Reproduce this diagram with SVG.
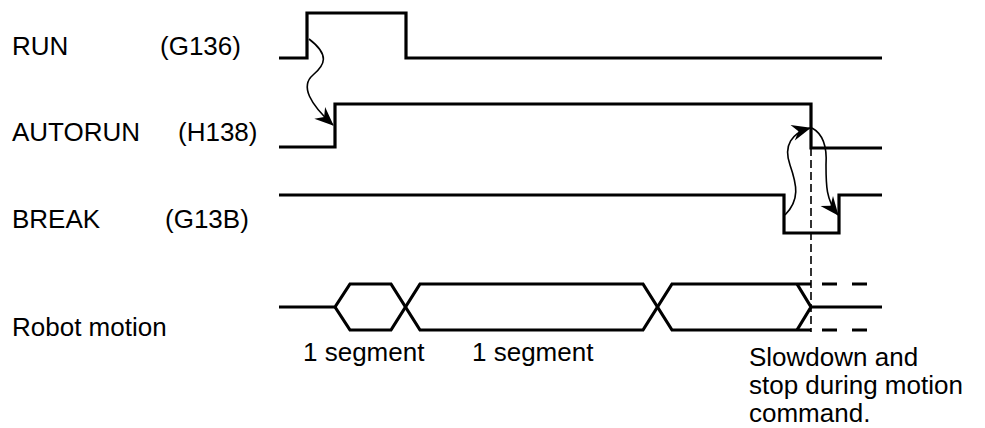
<svg xmlns="http://www.w3.org/2000/svg" width="985" height="428" viewBox="0 0 985 428">
<style>
text{font-family:"Liberation Sans",Arial,sans-serif;font-size:26px;fill:#000}
.sig{fill:none;stroke:#000;stroke-width:3.2;stroke-linejoin:miter}
.mot{fill:none;stroke:#000;stroke-width:3.2}
.arr{fill:none;stroke:#000;stroke-width:1.6}
.dash{fill:none;stroke:#000;stroke-width:1.6;stroke-dasharray:8 4}
.hdash{fill:none;stroke:#000;stroke-width:3.2;stroke-dasharray:15 15}
</style>
<defs>
<marker id="ah" markerUnits="userSpaceOnUse" markerWidth="24" markerHeight="24" refX="0" refY="0" viewBox="-20 -10 24 20" orient="auto" overflow="visible">
<path d="M1,0 L-18,-8 L-12,0 L-18,8 Z" fill="#000"/>
</marker>
</defs>
<g id="label-run"><text x="12" y="55">RUN</text><text x="160" y="55">(G136)</text></g>
<g id="label-autorun"><text x="12" y="141">AUTORUN</text><text x="178" y="141">(H138)</text></g>
<g id="label-break"><text x="12" y="228">BREAK</text><text x="165" y="228">(G13B)</text></g>
<g id="label-motion"><text x="12" y="336">Robot motion</text></g>
<g id="sig-run"><path class="sig" d="M279,58 H307 V13 H406 V58 H882"/></g>
<g id="sig-autorun"><path class="sig" d="M279,147 H335 V104 H811 V148 H882"/></g>
<g id="sig-break"><path class="sig" d="M279,195 H784 V233 H839 V195 H882"/></g>
<g id="sig-motion">
<path class="mot" d="M279,307 H335 L350,284 H391 L420,330 H643 L672,284 H811"/>
<path class="mot" d="M335,307 L350,330 H391 L420,284 H643 L672,330 H811"/>
<path class="mot" d="M797,284 L811,307 L797,330"/>
<path class="mot" d="M811,307 H882"/>
<path class="hdash" d="M822,284 H882 M822,330 H882"/>
</g>
<g id="seg-labels">
<text x="303" y="361">1 segment</text>
<text x="472" y="361">1 segment</text>
</g>
<g id="note">
<text x="749" y="366">Slowdown and</text>
<text x="749" y="394">stop during motion</text>
<text x="749" y="422">command.</text>
</g>
<g id="connectors">
<path class="dash" d="M811,148 V332"/>
<path class="arr" marker-end="url(#ah)" d="M309,39 C330,55 325,65 313,75 C300,86 310,104 333,125"/>
<path class="arr" marker-end="url(#ah)" d="M785,215 C800,200 797,185 790,165 C783,145 792,133 810,128"/>
<path class="arr" marker-end="url(#ah)" d="M812,128 C825,135 827,150 826,165 C826,185 826,200 838,215"/>
</g>
</svg>
